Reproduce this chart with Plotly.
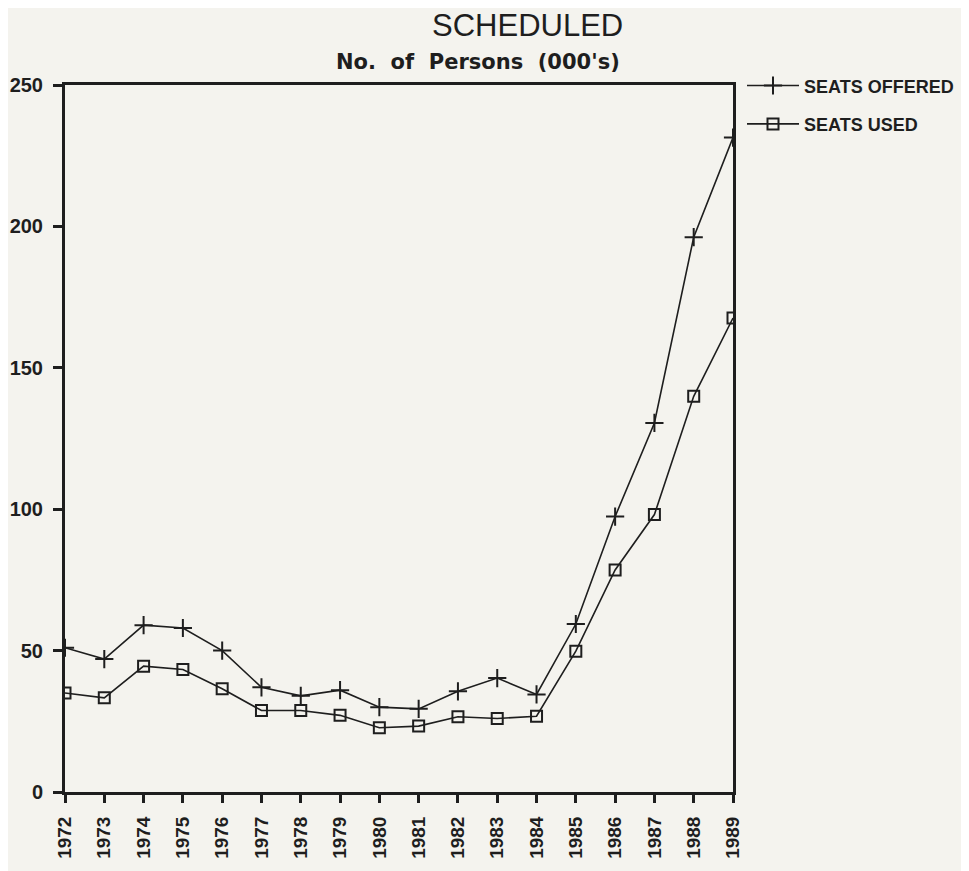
import plotly.graph_objects as go

years = list(range(1972, 1990))
seats_offered = [51, 47, 59, 58, 50, 37, 34, 36, 30, 29.4, 35.6, 40.3, 34.5, 59.4, 97.4, 130.5, 196.2, 231.4]
seats_used = [35, 33.3, 44.5, 43.3, 36.5, 28.8, 28.8, 27.1, 22.7, 23.3, 26.6, 26, 26.8, 49.8, 78.5, 98.1, 139.9, 167.6]
y_ticks = [0, 50, 100, 150, 200, 250]

ink = "#1e1e1e"
paper = "#f4f3ee"

# page body has an 8px margin; figure is sized/offset so the plot lands where the reference has it
W, H = 961, 863
L, T, R, B = 57, 77, 236, 79
pw = W - L - R
ph = H - T - B

fig = go.Figure()
fig.add_trace(go.Scatter(
    x=years, y=seats_offered, name="SEATS OFFERED", mode="lines+markers",
    line=dict(color=ink, width=1.6),
    marker=dict(symbol="cross-thin", size=13, line=dict(color=ink, width=2)),
    legendgroup="a",
))
fig.add_trace(go.Scatter(
    x=years, y=seats_used, name="SEATS USED", mode="lines+markers",
    line=dict(color=ink, width=1.6),
    marker=dict(symbol="square-open", size=11, color=ink, line=dict(color=ink, width=2)),
    legendgroup="b",
))

fig.update_layout(
    width=W, height=H,
    margin=dict(l=L, r=R, t=T, b=B, autoexpand=False),
    paper_bgcolor=paper, plot_bgcolor=paper,
    font=dict(family="Liberation Sans, Arial, sans-serif", color=ink),
    showlegend=True,
    legend=dict(
        x=1 + 9 / pw, y=1.025, xanchor="left", yanchor="top",
        bgcolor="rgba(0,0,0,0)",
        font=dict(size=18, family="Liberation Sans, Arial, sans-serif", color=ink, weight="bold"),
        tracegroupgap=12, traceorder="grouped", itemwidth=52,
    ),
    annotations=[
        dict(text="SCHEDULED", xref="paper", yref="paper",
             x=(527 - 8 - L) / pw, y=1 + (T - 36) / ph, xanchor="center", yanchor="bottom",
             showarrow=False, borderpad=0, font=dict(size=31, color=ink)),
        dict(text="<b>No.  of  Persons  (000's)</b>", xref="paper", yref="paper",
             x=(478 - 8 - L) / pw, y=1 + (85 - 62) / ph, xanchor="center", yanchor="middle",
             showarrow=False, font=dict(size=21, color=ink, family="DejaVu Sans, sans-serif")),
    ],
)

fig.update_xaxes(
    range=[1972, 1989], tickmode="array", tickvals=years,
    ticktext=[str(y) for y in years], tickangle=-90,
    ticks="outside", ticklen=8, tickwidth=2.5, tickcolor=ink,
    ticklabelstandoff=6, automargin=False,
    tickfont=dict(size=19, weight="bold", color=ink),
    showline=True, linewidth=3, linecolor=ink, mirror=True,
    showgrid=False, zeroline=False,
)
fig.update_yaxes(
    range=[0, 250], tickmode="array", tickvals=y_ticks,
    ticktext=[str(v) for v in y_ticks],
    ticks="outside", ticklen=9, tickwidth=2.5, tickcolor=ink,
    ticklabelstandoff=6, automargin=False,
    tickfont=dict(size=20, weight="bold", color=ink),
    showline=True, linewidth=3, linecolor=ink, mirror=True,
    showgrid=False, zeroline=False,
)

fig.write_html("out.html")
